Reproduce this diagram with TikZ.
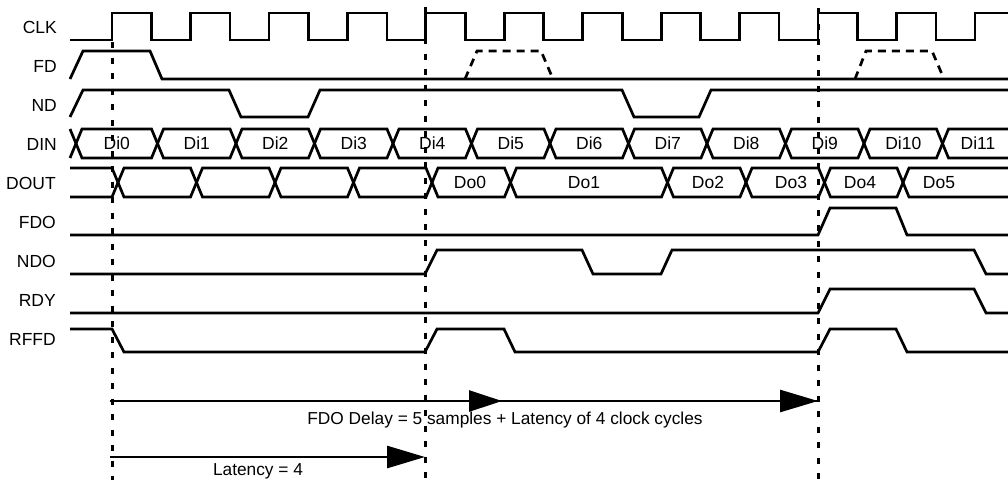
\documentclass[tikz,border=0pt]{standalone}
\usepackage{fontspec}
\setmainfont{Liberation Sans}
\usetikzlibrary{arrows.meta}
\newcommand\busseg[4]{%
  \draw[wave] ({#1+6},{(#3+#4)/2}) -- ({#1+12},#3) -- (#2,#3) -- ({#2+6},{(#3+#4)/2}) -- (#2,#4) -- ({#1+12},#4) -- cycle;}
\begin{document}
\begin{tikzpicture}[x=1pt,y=-1pt,
  wave/.style={line width=2.7pt},
  guide/.style={line width=3pt, dash pattern=on 6pt off 9.5pt},
  pulse/.style={line width=2.7pt, dash pattern=on 8pt off 6pt},
  sig/.style={anchor=east, inner sep=0pt, font=\fontsize{17.5}{20}\selectfont},
  val/.style={inner sep=0pt, font=\fontsize{17.5}{20}\selectfont},
  note/.style={anchor=base, inner sep=0pt, font=\fontsize{17.3}{20}\selectfont},
  arr/.style={line width=2.7pt, -{Triangle[length=38pt,width=22pt]}}]
\useasboundingbox (0,0) rectangle (1008,480);
% signal names
\node[sig] (lclk) at (57,27) {CLK};
\node[sig] (lfd) at (57,66) {FD};
\node[sig] (lnd) at (57,105) {ND};
\node[sig] (ldin) at (57,144) {DIN};
\node[sig] (ldout) at (56,183) {DOUT};
\node[sig] (lfdo) at (56,222) {FDO};
\node[sig] (lndo) at (56,261) {NDO};
\node[sig] (lrdy) at (56,300) {RDY};
\node[sig] (lrffd) at (56,339) {RFFD};
% CLK
\draw[wave] (70,40) foreach \k in {0,...,10} { -- ({112+78.45*\k},40) -- ({112+78.45*\k},13) -- ({151.5+78.45*\k},13) -- ({151.5+78.45*\k},40) } -- (975,40) -- (975,13) -- (1008,13);
% FD
\draw[wave] (70,79) -- (83,51) -- (150,51) -- (162,79) -- (1008,79);
\draw[pulse] (465,79) -- (477,51) -- (541,51) -- (553,79);
\draw[pulse] (855,79) -- (866,51) -- (932,51) -- (944,79);
% ND
\draw[wave] (70,117) -- (83,90) -- (229,90) -- (241,117) -- (308,117) -- (320,90) -- (622,90) -- (634,117) -- (699,117) -- (711,90) -- (1008,90);
% DIN
\draw[wave] (70,129) -- (76,143.5) -- (70,158);
\foreach \a/\b/\t in {70/151.5/Di0, 151.5/230/Di1, 230/308.5/Di2, 308.5/387/Di3, 387/465.5/Di4, 465.5/544/Di5, 544/622.5/Di6, 622.5/701/Di7, 701/779.5/Di8, 779.5/858/Di9, 858/936.5/Di10}{
  \busseg{\a}{\b}{129}{158}
  \node[val] (n\t) at ({(\a+12+\b)/2},143.5) {\t};
}
\draw[wave] (1008,129) -- (948.5,129) -- (942.5,143.5) -- (948.5,158) -- (1008,158);
\node[val] (nDi11) at (978,143.5) {Di11};
% DOUT
\draw[wave] (70,168) -- (112,168) -- (118,182.5) -- (112,197) -- (70,197);
\foreach \a/\b in {112/190.5, 190.5/269, 269/347.5, 347.5/426, 426/504.5, 504.5/661.5, 661.5/740, 740/818.5, 818.5/897}{
  \busseg{\a}{\b}{168}{197}
}
\draw[wave] (1008,168) -- (909,168) -- (903,182.5) -- (909,197) -- (1008,197);
\node[val] (nDo0) at (470,182.5) {Do0};
\node[val] (nDo1) at (584,182.5) {Do1};
\node[val] (nDo2) at (708,182.5) {Do2};
\node[val] (nDo3) at (791,182.5) {Do3};
\node[val] (nDo4) at (860,182.5) {Do4};
\node[val] (nDo5) at (939,182.5) {Do5};
% FDO
\draw[wave] (70,235) -- (818,235) -- (830,208) -- (896,208) -- (907,235) -- (1008,235);
% NDO
\draw[wave] (70,274) -- (425,274) -- (437,250) -- (582,250) -- (593,274) -- (661,274) -- (672,250) -- (974,250) -- (986,274) -- (1008,274);
% RDY
\draw[wave] (70,313) -- (818,313) -- (830,289) -- (974,289) -- (986,313) -- (1008,313);
% RFFD
\draw[wave] (70,329) -- (112,329) -- (124,352) -- (425,352) -- (437,329) -- (504,329) -- (515,352) -- (818,352) -- (830,329) -- (896,329) -- (907,352) -- (1008,352);
% guide lines
\coordinate (g1t) at (112,42); \coordinate (g1b) at (112,480);
\coordinate (g2t) at (425,7); \coordinate (g2b) at (425,480);
\coordinate (g3t) at (818,8); \coordinate (g3b) at (818,480);
\draw[guide] (g1t) -- (g1b);
\draw[guide] (g2t) -- (g2b);
\draw[guide] (g3t) -- (g3b);
% arrows
\coordinate (a1s) at (110,401); \coordinate (a1m) at (502,401); \coordinate (a1e) at (818,401);
\coordinate (a2s) at (110,457); \coordinate (a2e) at (425,457);
\draw[line width=2.7pt] (a1s) -- (a1e);
\draw[arr, -{Triangle[length=33pt,width=21pt]}] (a1s) -- (a1m);
\draw[arr] (a1s) -- (a1e);
\draw[arr] (a2s) -- (a2e);
\node[note] (t1) at (505,424) {FDO Delay = 5 samples + Latency of 4 clock cycles};
\node[note] (t2) at (258,475) {Latency = 4};
\end{tikzpicture}
\end{document}
